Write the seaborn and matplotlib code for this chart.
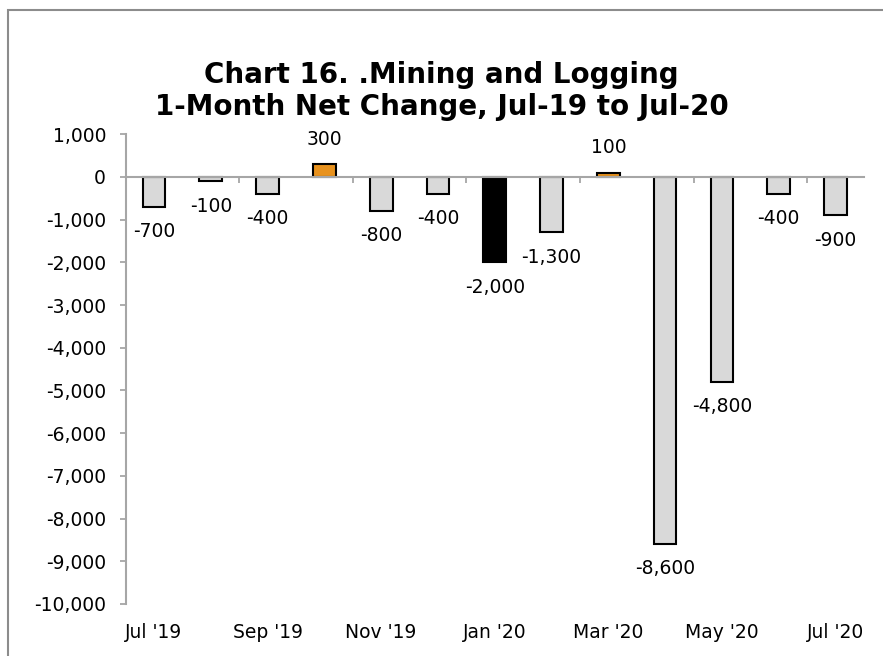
import numpy as np
import matplotlib.pyplot as plt
import matplotlib.ticker as mticker
from matplotlib.patches import Rectangle
import seaborn as sns
import pandas as pd

# Data
months = ["Jul '19", "Aug '19", "Sep '19", "Oct '19", "Nov '19", "Dec '19", "Jan '20",
          "Feb '20", "Mar '20", "Apr '20", "May '20", "Jun '20", "Jul '20"]
change = [-700, -100, -400, 300, -800, -400, -2000, -1300, 100, -8600, -4800, -400, -900]
highlight = "Jan '20"
yticks = list(range(-10000, 1001, 1000))

GREY = '#D9D9D9'
ORANGE = '#E8921E'
AXIS = '#A6A6A6'

dat = pd.DataFrame({'month': months, 'change': change})
dat['colour'] = np.where(dat.month == highlight, 'black',
                         np.where(dat.change > 0, ORANGE, GREY))

sns.set_style('white', {'text.color': 'black', 'xtick.color': 'black', 'ytick.color': 'black'})
plt.rcParams['font.family'] = ['DejaVu Sans']

fig = plt.figure(figsize=(8.83, 6.56), dpi=100)
ax = fig.add_axes([0.1422, 0.0793, 0.8362, 0.716])

sns.barplot(data=dat, x='month', y='change', hue='month', palette=list(dat.colour),
            saturation=1, width=0.4, edgecolor='black', linewidth=1.5, legend=False,
            dodge=False, ax=ax)

for c in ax.containers:
    ax.bar_label(c, fmt='{:,.0f}', padding=11, fontsize=13.5, color='black')

ax.set(xlim=(-0.5, 12.5), ylim=(-10000, 1000), xlabel='', ylabel='')
ax.set_yticks(yticks)
ax.yaxis.set_major_formatter(mticker.FuncFormatter(lambda v, p: f'{v:,.0f}'))
ax.tick_params(axis='y', direction='out', length=4, width=1.3, color=AXIS,
               labelcolor='black', labelsize=13.5, pad=10, left=True)

# zero line with ticks between every second month
for s in ['top', 'right']:
    ax.spines[s].set_visible(False)
ax.spines['bottom'].set_position(('data', 0))
for s in ['bottom', 'left']:
    ax.spines[s].set_color(AXIS)
    ax.spines[s].set_linewidth(1.5)
ax.set_xticks(np.arange(1.5, 12, 2))
ax.set_xticklabels([])
ax.tick_params(axis='x', direction='out', length=4, width=1.3, color=AXIS, bottom=True)

# month labels along the bottom
sec = ax.secondary_xaxis('bottom')
sec.set_xticks(range(0, len(months), 2), labels=months[::2])
sec.tick_params(length=0, labelsize=13.5, labelcolor='black', pad=14)
sec.spines['bottom'].set_visible(False)

fig.text(0.5, 1 - 91/656, 'Chart 16. .Mining and Logging\n1-Month Net Change, Jul-19 to Jul-20',
         ha='center', va='center', fontsize=20, fontweight='bold', linespacing=1.15,
         color='black')

fig.patches.append(Rectangle((8/883, -0.05), 1.1, 1 - 10/656 + 0.05, transform=fig.transFigure,
                             fill=False, edgecolor='#8C8C8C', linewidth=1.5))

fig.savefig('out.png', dpi=100)
plt.close()
